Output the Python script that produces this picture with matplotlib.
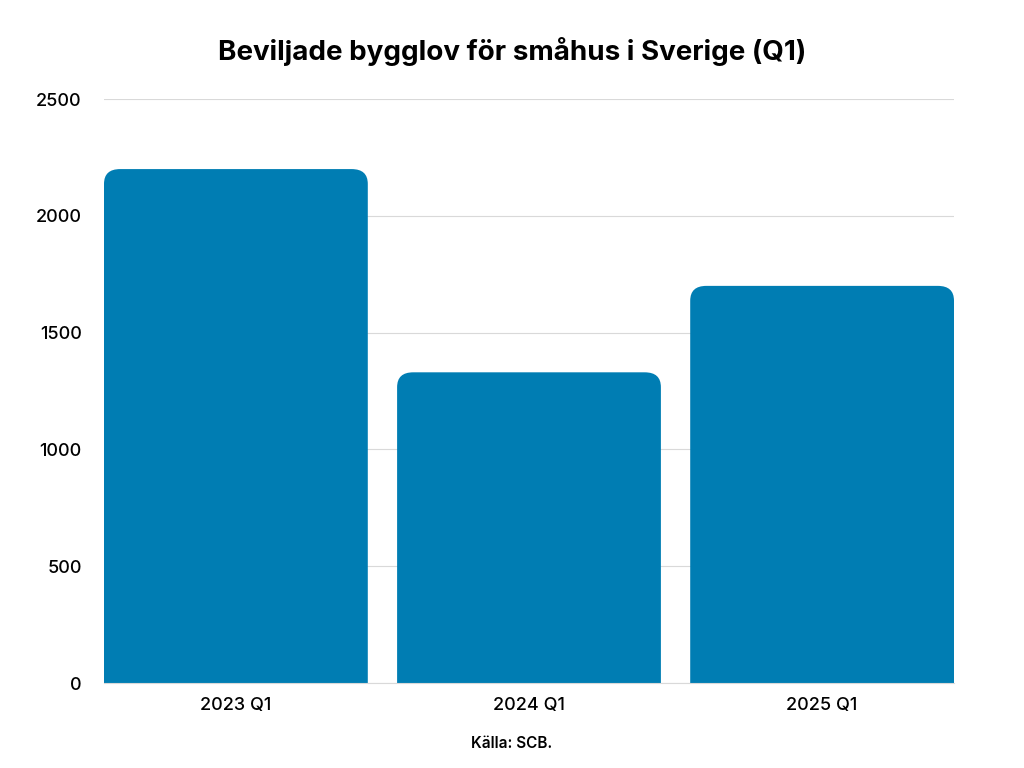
import matplotlib.pyplot as plt
from matplotlib.patches import FancyBboxPatch

plt.rcParams['font.family'] = ['Inter', 'DejaVu Sans']

kategorier = ['2023 Q1', '2024 Q1', '2025 Q1']
bygglov = [2200, 1330, 1700]
farg = '#007db3'

fig = plt.figure(figsize=(10.24, 7.68), dpi=100)
ax = fig.add_axes([104 / 1024, 1 - 683 / 768, 850 / 1024, 584 / 768])

bredd = 0.9
for i, v in enumerate(bygglov):
    # rundade hörn upptill, nedre hörnen döljs under y=0
    p = FancyBboxPatch((i - bredd / 2, -200), bredd, v + 200,
                       boxstyle='round,pad=0,rounding_size=0.055',
                       mutation_aspect=1150, fc=farg, ec='none', zorder=2)
    ax.add_patch(p)

ax.set_xlim(-0.45, 2.45)
ax.set_ylim(0, 2500)
ax.set_yticks(range(0, 2501, 500))
ax.set_xticks(range(len(kategorier)))
ax.set_xticklabels(kategorier)
ax.grid(axis='y', color='#d9d9d9', lw=0.8, zorder=0)
for s in ['top', 'right', 'left']:
    ax.spines[s].set_visible(False)
ax.spines['bottom'].set_color('#d9d9d9')
ax.tick_params(length=0, labelsize=13, pad=10)
for t in ax.get_xticklabels() + ax.get_yticklabels():
    t.set_fontweight('medium')
ax.tick_params(axis='y', pad=16)

fig.text(0.5, 1 - 52 / 768, 'Beviljade bygglov för småhus i Sverige (Q1)',
         ha='center', va='center', fontsize=20, fontweight='bold')
fig.text(0.5, 1 - 744 / 768, 'Källa: SCB.', ha='center', va='center',
         fontsize=11, fontweight='semibold')

fig.savefig('out.png', dpi=100)
